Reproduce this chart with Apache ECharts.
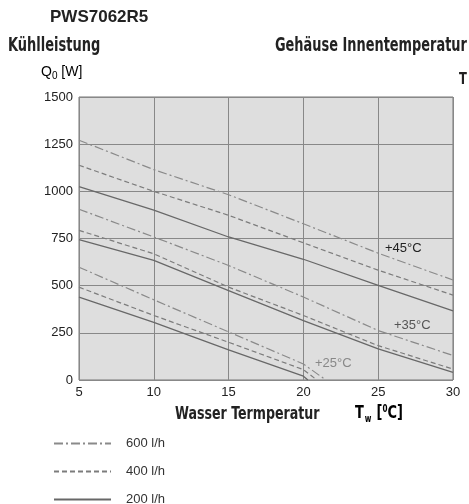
<!DOCTYPE html>
<html>
<head>
<meta charset="utf-8">
<script src="https://cdn.jsdelivr.net/npm/echarts@6/dist/echarts.min.js"></script>
<style>html,body{margin:0;padding:0;background:#fff}#c{width:469px;height:504px}</style>
</head>
<body>
<div id="c"></div>
<script>
// Water temperature (°C) at which values were read
var xTw = [5, 10, 15, 20, 25, 30];
// Inner temperature +45 °C
var t45_600 = [1271, 1115, 982, 828, 672, 530];
var t45_400 = [1138, 1000, 873, 727, 582, 450];
var t45_200 = [1025, 900, 758, 640, 502, 366];
// Inner temperature +35 °C
var t35_600 = [905, 758, 607, 440, 262, 130];
var t35_400 = [793, 669, 492, 342, 182, 58];
var t35_200 = [744, 634, 474, 315, 165, 40];
// Inner temperature +25 °C (lines end where they reach 0 W)
var x25_600 = [5, 10, 15, 20, 21.5];
var t25_600 = [598, 425, 255, 85, 0];
var x25_400 = [5, 10, 15, 20, 20.9];
var t25_400 = [492, 342, 200, 55, 0];
var x25_200 = [5, 10, 15, 20, 20.3];
var t25_200 = [439, 306, 160, 20, 0];
var flowNames = ['600 l/h', '400 l/h', '200 l/h'];
var tempLabels = ['+45\u00b0C', '+35\u00b0C', '+25\u00b0C'];

function pairs(xs, ys) { return xs.map(function (x, i) { return [x, ys[i]]; }); }

var styles = {
  '600 l/h': { type: [9, 3, 2, 3], color: '#8a8a8a', width: 1.2 },
  '400 l/h': { type: [5, 3], color: '#7c7c7c', width: 1.2 },
  '200 l/h': { type: 'solid', color: '#686868', width: 1.3 }
};
var groups = [
  [t45_600, t45_400, t45_200, xTw, xTw, xTw],
  [t35_600, t35_400, t35_200, xTw, xTw, xTw],
  [t25_600, t25_400, t25_200, x25_600, x25_400, x25_200]
];
var series = [];
flowNames.forEach(function (name, fi) {
  groups.forEach(function (g) {
    var s = styles[name];
    series.push({
      type: 'line', name: name, symbol: 'none', silent: true, animation: false,
      data: pairs(g[3 + fi], g[fi]),
      lineStyle: { type: s.type, color: s.color, width: s.width },
      itemStyle: { color: s.color }
    });
  });
});

var chart = echarts.init(document.getElementById('c'), null, { renderer: 'canvas' });
var narrow = "'DejaVu Sans Condensed', 'Liberation Sans', sans-serif";
var sans = "'Liberation Sans', Arial, sans-serif";
function txt(x, y, text, font, fill, sx) {
  return { type: 'text', x: x, y: y, scaleX: sx || 1, silent: true,
    style: { text: text, font: font, fill: fill, align: 'left', verticalAlign: 'top' } };
}
chart.setOption({
  backgroundColor: '#ffffff',
  animation: false,
  grid: { left: 79, top: 97, right: 16, bottom: 124, show: true, backgroundColor: '#dedede', borderColor: '#777', borderWidth: 1 },
  xAxis: {
    type: 'value', min: 5, max: 30, interval: 5,
    axisLine: { show: false }, axisTick: { show: false },
    axisLabel: { color: '#222', fontSize: 13, fontFamily: sans, margin: 6 },
    splitLine: { lineStyle: { color: '#888', width: 1 } }
  },
  yAxis: {
    type: 'value', min: 0, max: 1500, interval: 250,
    axisLine: { show: false }, axisTick: { show: false },
    axisLabel: { color: '#222', fontSize: 13, fontFamily: sans, margin: 6, formatter: function (v) { return String(v); } },
    splitLine: { lineStyle: { color: '#888', width: 1 } }
  },
  legend: {
    orient: 'vertical', left: 53, top: 437, height: 90, width: 200, padding: 0, itemWidth: 57, itemHeight: 10, itemGap: 15,
    data: flowNames, selectedMode: false,
    itemStyle: { opacity: 0 },
    textStyle: { color: '#333', fontSize: 13, lineHeight: 10, fontFamily: sans, padding: [0, 0, 0, 10] }
  },
  graphic: [
    txt(50, 9, 'PWS7062R5', 'bold 17px ' + sans, '#222'),
    txt(8, 37, 'K\u00fchlleistung', 'bold 19px ' + narrow, '#222', 0.76),
    txt(275, 37, 'Geh\u00e4use Innentemperatur', 'bold 19px ' + narrow, '#222', 0.756),
    txt(459, 72, 'T', 'bold 16px ' + narrow, '#222', 0.8),
    { type: 'text', x: 41, y: 64, silent: true, style: { text: '{a|Q}{s|0}{a| [W]}', rich: { a: { fontSize: 14, fontFamily: sans, color: '#222' }, s: { fontSize: 10, fontFamily: sans, color: '#222', padding: [7, 0, 0, 0] } } } },
    txt(175, 405, 'Wasser Termperatur', 'bold 18px ' + narrow, '#222', 0.78),
    { type: 'text', x: 355, y: 402, scaleX: 0.8, silent: true, style: { text: '{a|T}{s|w}{a| [}{p|0}{a|C]}', rich: { a: { fontSize: 18, fontWeight: 'bold', fontFamily: narrow, color: '#222' }, s: { fontSize: 10, fontWeight: 'bold', fontFamily: narrow, color: '#222', padding: [12, 1, 0, 1] }, p: { fontSize: 10, fontWeight: 'bold', fontFamily: narrow, color: '#222', padding: [0, 0, 8, 0] } } } },
    txt(385, 242, tempLabels[0], '13px ' + sans, '#222'),
    txt(394, 319, tempLabels[1], '13px ' + sans, '#555'),
    txt(315, 357, tempLabels[2], '13px ' + sans, '#888')
  ],
  series: series
});
</script>
</body>
</html>
